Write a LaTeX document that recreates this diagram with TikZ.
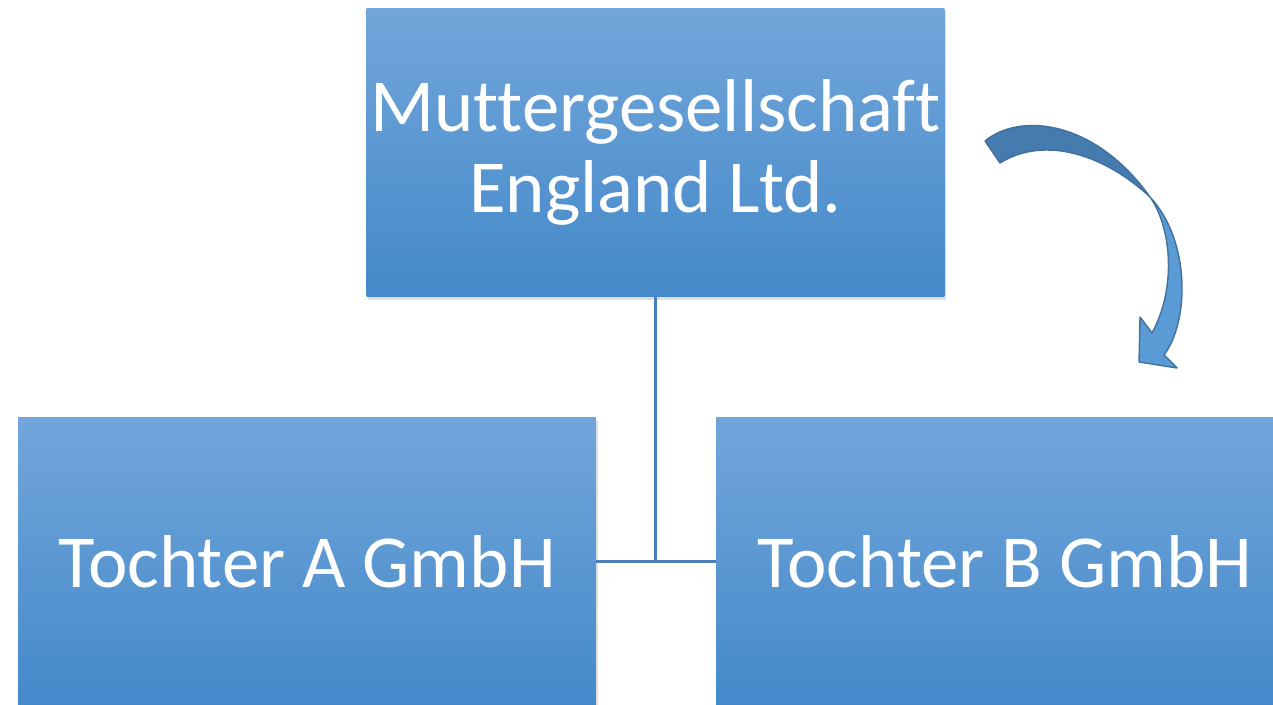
\documentclass[tikz,border=0pt]{standalone}
\usepackage{fontspec}
\setmainfont{Carlito}[Ligatures=CommonOff]
\usetikzlibrary{positioning,calc,shadows}

\definecolor{boxtop}{HTML}{72A6DA}
\definecolor{boxbottom}{HTML}{4489CA}
\definecolor{linkblue}{HTML}{4A7EBB}
\definecolor{arrowdark}{HTML}{467BB0}
\definecolor{arrowlight}{HTML}{5B9BD5}
\definecolor{arrowedge}{HTML}{41719C}

\begin{document}
\begin{tikzpicture}[x=0.02cm,y=-0.02cm,
        firmbox/.style={rectangle,minimum width=11.56cm,minimum height=5.78cm,inner xsep=1pt,top color=boxtop,bottom color=boxbottom,
            drop shadow={shadow xshift=1pt,shadow yshift=-2pt,opacity=0.25},
            text=white,align=center,font=\fontsize{42.6}{46}\selectfont},
        link/.style={draw=linkblue,line width=1.3pt}]
        \useasboundingbox (0,0) rectangle (1273,705);

        \node[firmbox] (mutter) at (655.5,152.5) {Muttergesellschaft\\England Ltd.};
        \node[firmbox] (tochtera) at (307,561.5) {Tochter A GmbH};
        \node[firmbox] (tochterb) at (1005,561.5) {Tochter B GmbH};

        \draw[link] (mutter.south) -- (mutter.south |- tochtera.east);
        \draw[link] (tochtera.east) -- (tochterb.west);

        % curved block arrow, twisted in the middle
        \coordinate (twist) at (1150,197);
        \filldraw[fill=arrowdark,draw=arrowedge,line width=0.8pt,line join=round]
            (985,141) .. controls (1020,112) and (1095,120) .. (twist)
            .. controls (1105,155) and (1045,135) .. (1000,163) -- cycle;
        \filldraw[fill=arrowlight,draw=arrowedge,line width=0.8pt,line join=round]
            (twist) .. controls (1170,225) and (1178,285) .. (1152,333)
            -- (1140,317) -- (1139,362) -- (1177,368) -- (1164,355)
            .. controls (1190,320) and (1190,240) .. (twist) -- cycle;
    \end{tikzpicture}
\end{document}
